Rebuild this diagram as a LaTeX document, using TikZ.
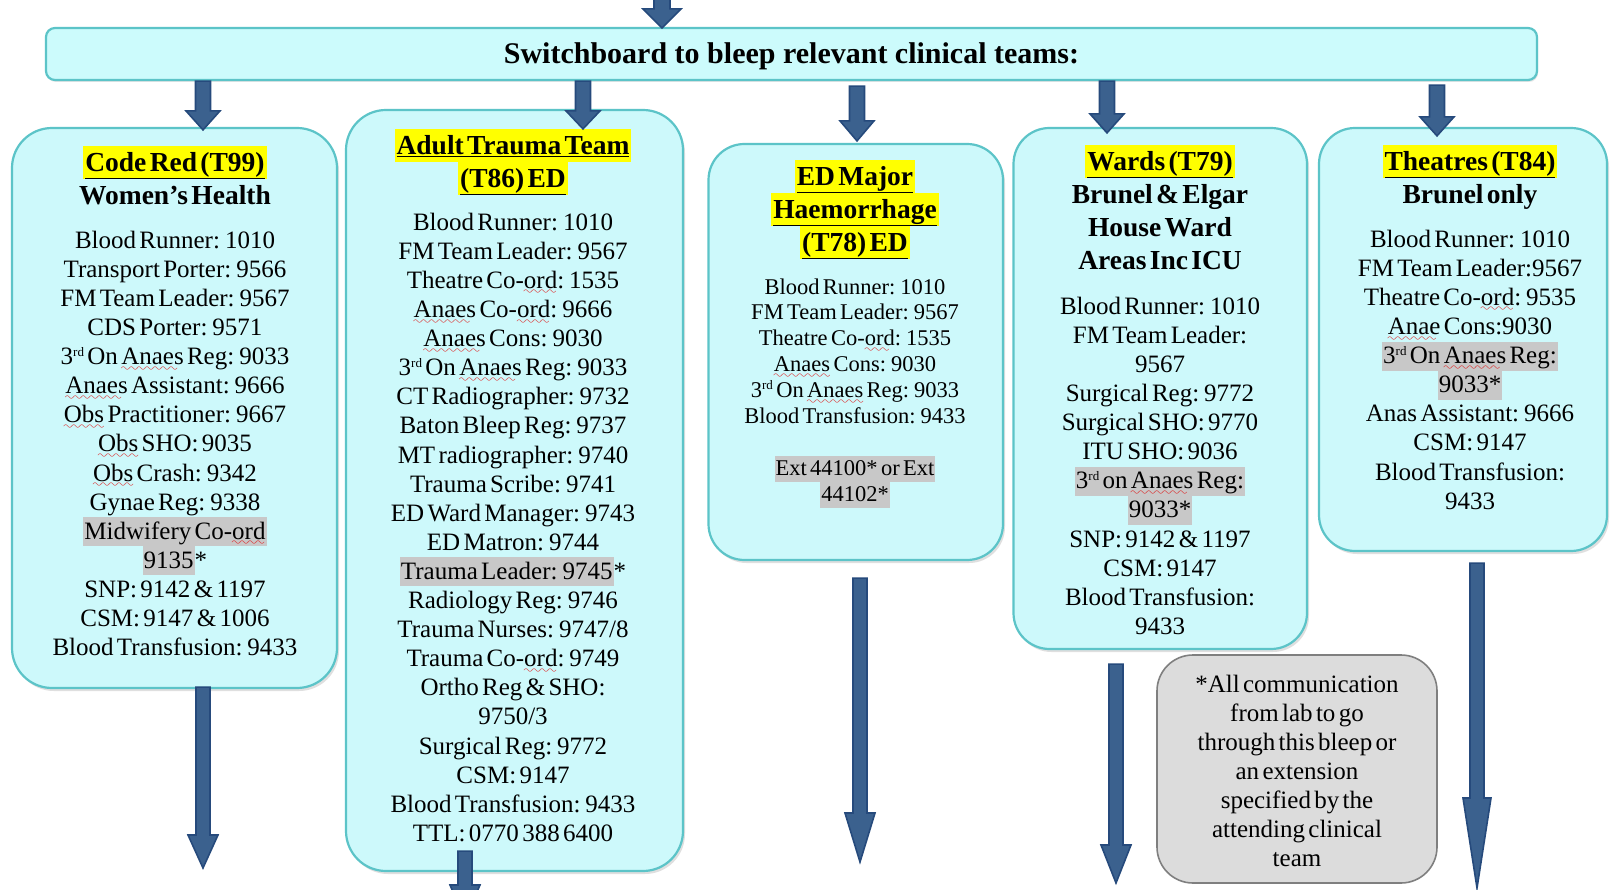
\documentclass[tikz,border=0pt]{standalone}
\usepackage{fontspec}
\setmainfont{Liberation Serif}
\usetikzlibrary{shadows,calc}
\definecolor{boxfill}{HTML}{CDF9FB}
\definecolor{boxline}{HTML}{5CC4C8}
\definecolor{barfill}{HTML}{CCFBFC}
\definecolor{hlyellow}{HTML}{FFFF00}
\definecolor{hlgray}{HTML}{C8C8C8}
\definecolor{notefill}{HTML}{DCDCDC}
\definecolor{noteline}{HTML}{7F7F7F}
\definecolor{arrowfill}{HTML}{4F81BD}
\definecolor{arrowdark}{HTML}{264A7C}
\definecolor{wavered}{HTML}{E01010}
\font\wavefnt=lasy10 at 12pt
\newcommand\sq[1]{\leavevmode\setbox0\hbox{#1}\rlap{\lower6.5pt\hbox to \wd0{\color{wavered}\leaders\hbox{\wavefnt\char58}\hfill}}\box0\relax}
\newcommand\rd{\raisebox{8pt}{\fontsize{13}{13}\selectfont rd}}
\newcommand\hd{\fontsize{27.5}{33}\selectfont\bfseries}
\newcommand\bd{\fontsize{25}{29.1}\selectfont\mdseries}
\newcommand\bds{\fontsize{22.5}{25.9}\selectfont\mdseries}
\newcommand\hy[1]{{\fboxsep=0pt\colorbox{hlyellow}{\rule[-8pt]{0pt}{32.9pt}\kern2pt\underline{#1}\kern2pt}}}
\newcommand\hg[1]{{\fboxsep=0pt\colorbox{hlgray}{\rule[-7pt]{0pt}{29pt}\kern1pt#1\kern1pt}}}
\newcommand\hgs[1]{{\fboxsep=0pt\colorbox{hlgray}{\rule[-6.4pt]{0pt}{25.8pt}\kern1pt#1\kern1pt}}}
\tikzset{
  box/.style={draw=boxline, line width=2.2pt, fill=boxfill, rounded corners=40pt,
    drop shadow={shadow xshift=2pt, shadow yshift=-3pt, opacity=0.25, fill=gray}},
  notebox/.style={draw=noteline, line width=1.6pt, fill=notefill, rounded corners=36pt},
  barbox/.style={draw=boxline, line width=2.2pt, fill=barfill, rounded corners=9pt,
    drop shadow={shadow xshift=1pt, shadow yshift=-2pt, opacity=0.2, fill=gray}},
  txt/.style={text width=330pt, align=center, inner sep=0pt, anchor=north},
  barrow/.style={draw=arrowdark, line width=1.6pt, left color=arrowfill!75!black,
    middle color=arrowfill!80!white, right color=arrowfill!75!black}
}
\newcommand\blockarrow[5]{%
  \path[barrow] let \p1=(#1), \p2=(#2) in
   (\x1-#3pt,\y1) -- (\x1+#3pt,\y1) -- (\x1+#3pt,\y2+#5pt) -- (\x1+#4pt,\y2+#5pt)
   -- (\x1,\y2) -- (\x1-#4pt,\y2+#5pt) -- (\x1-#3pt,\y2+#5pt) -- cycle;}
\begin{document}
\begin{tikzpicture}[x=1pt,y=-1pt]
\clip (0,0) rectangle (1610,890);
\fill[white] (0,0) rectangle (1610,890);

% top bar
\node[barbox, minimum width=1491pt, minimum height=52pt, inner sep=0pt,
  text height=21pt, text depth=2pt, font=\fontsize{30}{34}\selectfont\bfseries]
  (bar) at (791.5,54) {Switchboard to bleep relevant clinical teams:};

% boxes
\node[box, minimum width=325pt, minimum height=560pt] (b1) at (174.5,408) {};
\node[box, minimum width=337pt, minimum height=761pt] (b2) at (514.5,490.5) {};
\node[box, minimum width=294.5pt, minimum height=416pt, rounded corners=36pt] (b3) at (855.75,352) {};
\node[box, minimum width=293.5pt, minimum height=521pt, rounded corners=36pt] (b4) at (1160.25,388.5) {};
\node[box, minimum width=288pt, minimum height=423pt, rounded corners=36pt] (b5) at (1463,339.5) {};
\node[notebox, minimum width=280pt, minimum height=228pt] (note) at (1297,769) {};

% texts
\node[txt] (t1) at (175,146.1) {\hd\hy{Code Red (T99)}\\ Women’s Health\\[15pt]
 \bd Blood Runner: 1010\\ Transport Porter: 9566\\ FM Team Leader: 9567\\ CDS Porter: 9571\\
 3\rd{} On \sq{Anaes} Reg: 9033\\ \sq{Anaes} Assistant: 9666\\
 \sq{Obs} Practitioner: 9667\\ \sq{Obs} SHO: 9035\\ \sq{Obs} Crash: 9342\\ Gynae Reg: 9338\\
 \hg{Midwifery Co-\sq{ord}}\\ \hg{9135}*\\ SNP: 9142 \& 1197\\ CSM: 9147 \& 1006\\
 Blood Transfusion: 9433\par};

\node[txt] (t2) at (513,129.1) {\hd\hy{Adult Trauma Team}\\ \hy{(T86) ED}\\[14pt]
 \bd Blood Runner: 1010\\ FM Team Leader: 9567\\ Theatre Co-\sq{ord}: 1535\\
 \sq{Anaes} Co-\sq{ord}: 9666\\ \sq{Anaes} Cons: 9030\\ 3\rd{} On \sq{Anaes} Reg: 9033\\
 CT Radiographer: 9732\\ Baton Bleep Reg: 9737\\ MT radiographer: 9740\\ Trauma Scribe: 9741\\
 ED Ward Manager: 9743\\ ED Matron: 9744\\ \hg{Trauma Leader: 9745}*\\ Radiology Reg: 9746\\
 Trauma Nurses: 9747/8\\ Trauma Co-\sq{ord}: 9749\\ Ortho Reg \& SHO:\\ 9750/3\\
 Surgical Reg: 9772\\ CSM: 9147\\ Blood Transfusion: 9433\\ TTL: 0770 388 6400\par};

\node[txt] (t3) at (855,160.1) {\hd\hy{ED Major}\\ \hy{Haemorrhage}\\ \hy{(T78) ED}\\[17pt]
 \bds Blood Runner: 1010\\ FM Team Leader: 9567\\ Theatre Co-\sq{ord}: 1535\\
 \sq{Anaes} Cons: 9030\\ 3\rd{} On \sq{Anaes} Reg: 9033\\ Blood Transfusion: 9433\\[25.9pt]
 \hgs{Ext 44100* or Ext}\\ \hgs{44102*}\par};

\node[txt] (t4) at (1160,145.1) {\hd\hy{Wards (T79)}\\ Brunel \& Elgar\\ House Ward\\ Areas Inc ICU\\[16pt]
 \bd Blood Runner: 1010\\ FM Team Leader:\\ 9567\\ Surgical Reg: 9772\\ Surgical SHO: 9770\\
 ITU SHO: 9036\\ \hg{3\rd{} on \sq{Anaes} Reg:}\\ \hg{9033*}\\ SNP: 9142 \& 1197\\
 CSM: 9147\\ Blood Transfusion:\\ 9433\par};

\node[txt] (t5) at (1470,145.1) {\hd\hy{Theatres (T84)}\\ Brunel only\\[15pt]
 \bd Blood Runner: 1010\\ FM Team Leader:9567\\ Theatre Co-\sq{ord}: 9535\\ \sq{Anae} Cons:9030\\
 \hg{3\rd{} On \sq{Anaes} Reg:}\\ \hg{9033*}\\ Anas Assistant: 9666\\ CSM: 9147\\
 Blood Transfusion:\\ 9433\par};

\node[txt] (t6) at (1297,670) {\bd\rule{0pt}{22pt}*All communication\\ from lab to go\\ through this bleep or\\
 an extension\\ specified by the\\ attending clinical\\ team\par};

% arrow x positions and free ends
\coordinate (x0) at (662,-20);
\coordinate (x1) at (203,0);
\coordinate (x2) at (583,0);
\coordinate (x3) at (857,0);
\coordinate (x4) at (1107,0);
\coordinate (x5) at (1437,0);
\coordinate (y1) at (203,0);
\coordinate (y2) at (465,0);
\coordinate (y3) at (860,0);
\coordinate (y4) at (1116,0);
\coordinate (y5) at (1477,0);
\coordinate (e1) at (203,868);
\coordinate (e2) at (465,920);
\coordinate (e3) at (860,862);
\coordinate (e4) at (1116,883);
\coordinate (e5) at (1477,888);

% arrow into bar (from above)
\blockarrow{x0}{$(bar.north -| x0)+(0,1)$}{8}{19}{19}
% arrows from bar to boxes
\blockarrow{bar.south -| x1}{$(b1.north -| x1)+(0,3)$}{7.5}{17}{19}
\blockarrow{bar.south -| x2}{$(b2.north -| x2)+(0,20)$}{7.5}{17}{18}
\blockarrow{$(bar.south -| x3)+(0,5)$}{$(b3.north -| x3)+(0,-2)$}{7.5}{17}{20}
\blockarrow{bar.south -| x4}{$(b4.north -| x4)+(0,6)$}{7.5}{17}{19}
\blockarrow{$(bar.south -| x5)+(0,4)$}{$(b5.north -| x5)+(0,9)$}{7.5}{17}{19}
% arrows leaving boxes
\blockarrow{$(b1.south -| y1)+(0,-2)$}{e1}{7}{15}{33}
\blockarrow{$(b2.south -| y2)+(0,-21)$}{e2}{7}{15}{35}
\blockarrow{$(b3.south -| y3)+(0,17)$}{e3}{7}{15}{49}
\blockarrow{$(b4.south -| y4)+(0,14)$}{e4}{7}{15}{38}
\blockarrow{$(b5.south -| y5)+(0,11)$}{e5}{7}{14}{90}
\end{tikzpicture}
\end{document}
